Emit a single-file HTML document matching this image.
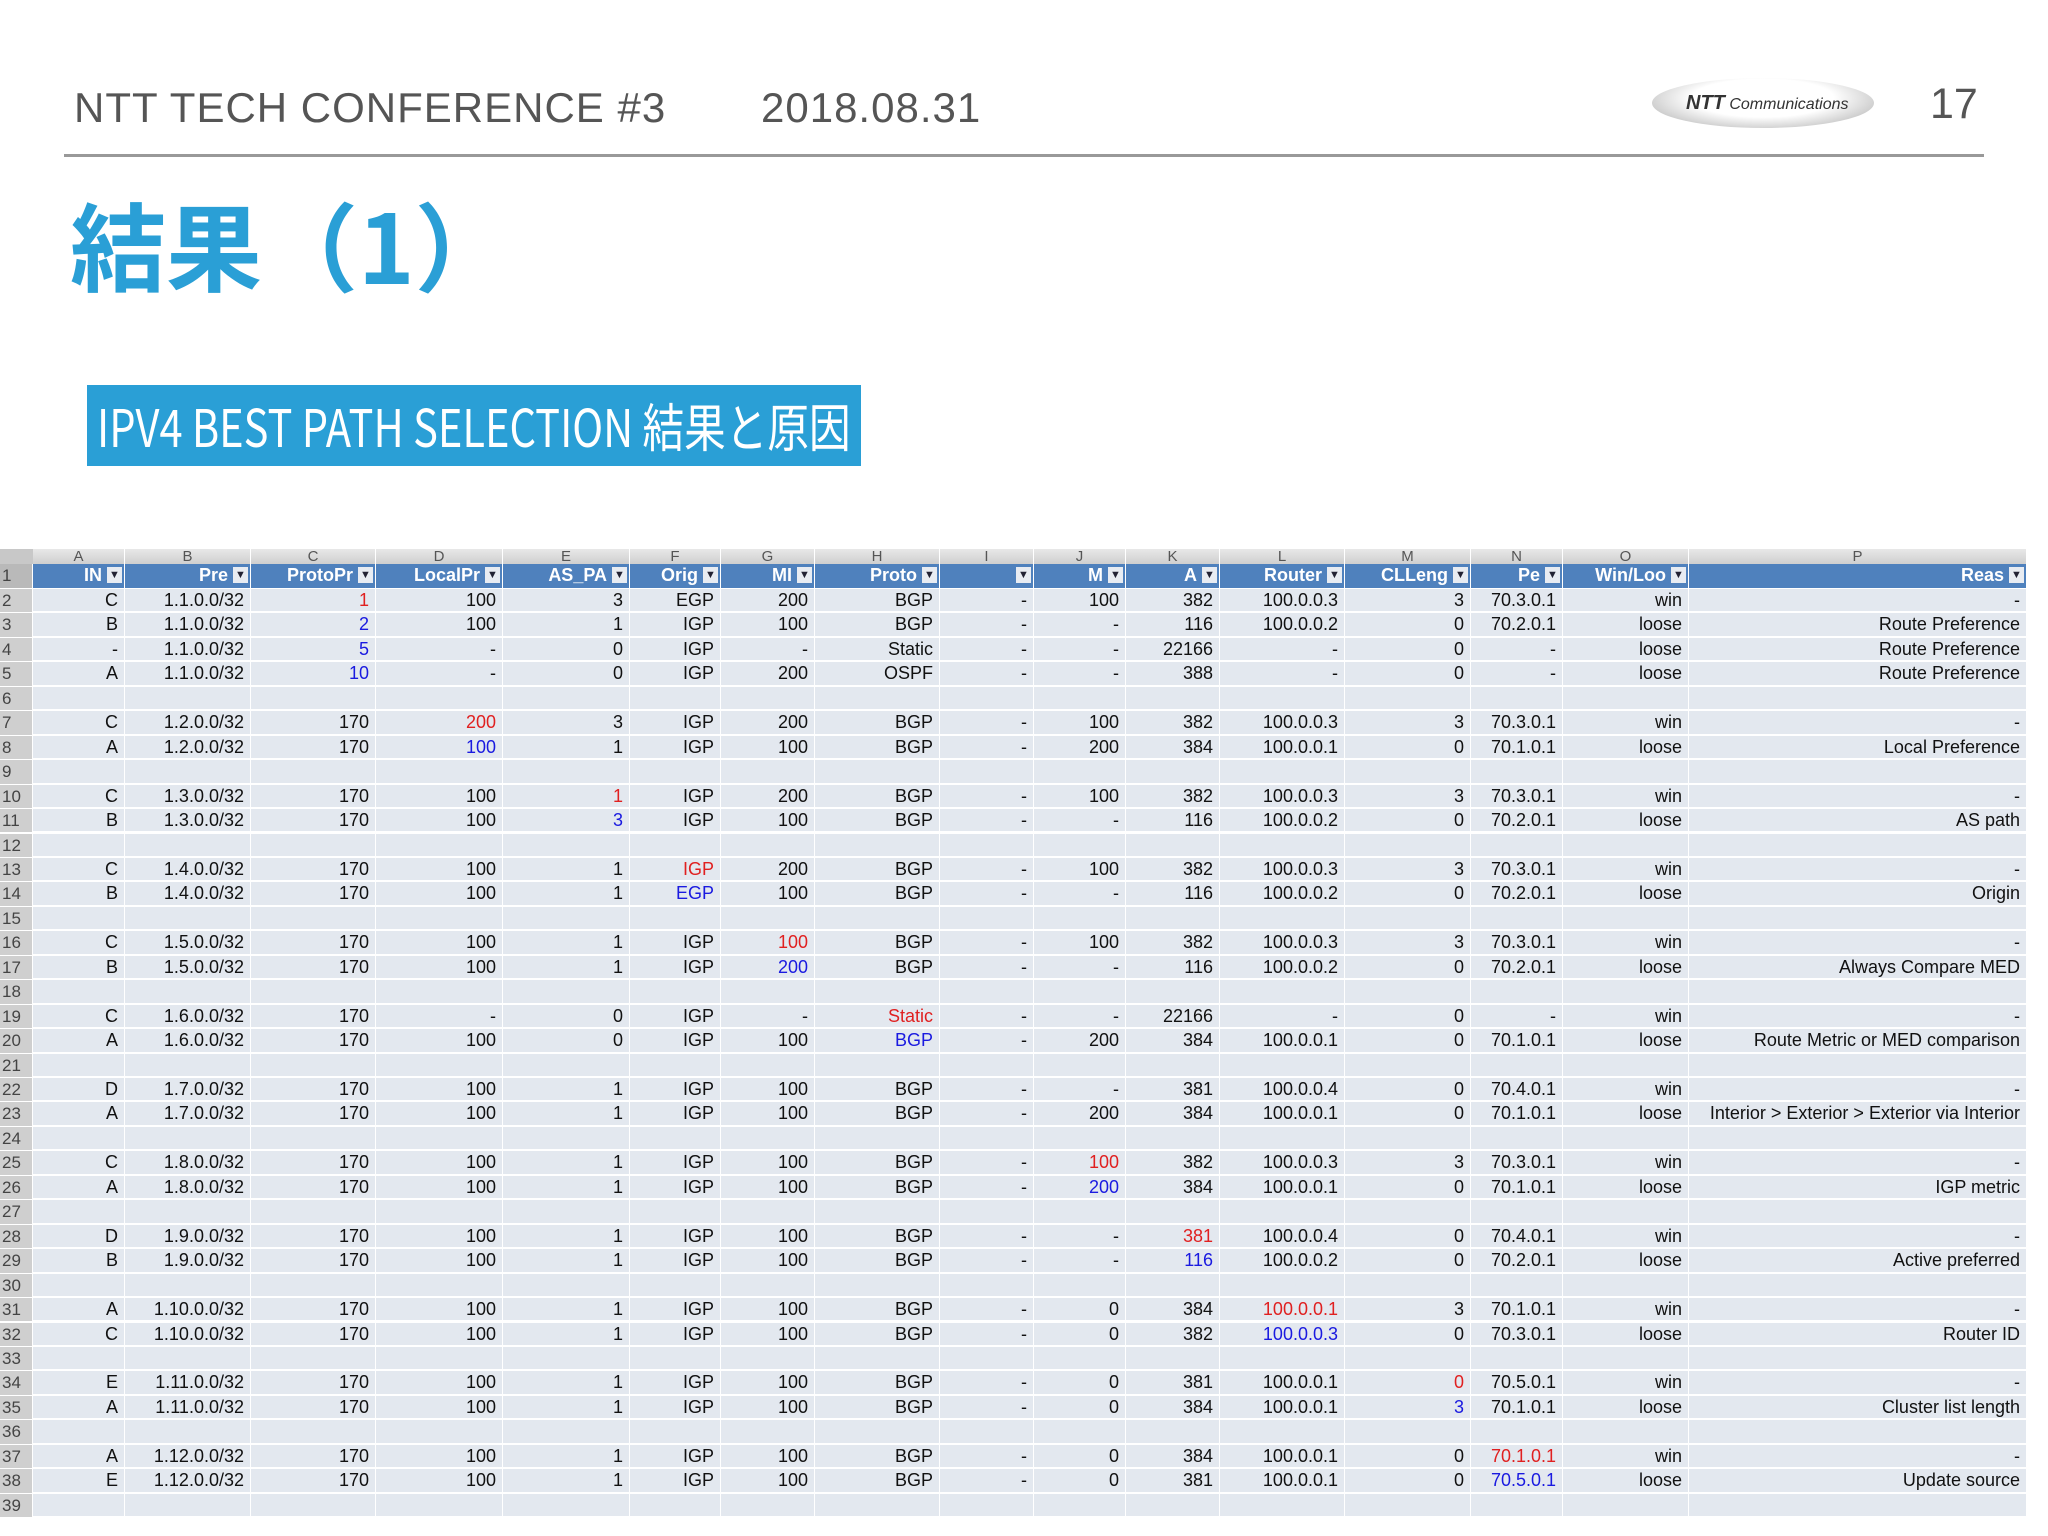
<!DOCTYPE html>
<html><head><meta charset="utf-8">
<style>
html,body{margin:0;padding:0}
body{width:2048px;height:1536px;position:relative;overflow:hidden;background:#fff;font-family:"Liberation Sans","Noto Sans CJK JP",sans-serif}
.abs{position:absolute}
#tbl{position:absolute;left:0;top:549px;width:2048px;height:987px;background:#fff;overflow:hidden}
.c{position:absolute;box-sizing:border-box;font-family:"Liberation Sans Narrow","Liberation Sans",sans-serif;font-size:18px;line-height:23px;color:#111;text-align:right;padding-right:6px;white-space:nowrap;overflow:hidden}
</style></head><body>
<div class="abs" style="left:74px;top:84px;font-size:42px;letter-spacing:1px;color:#555">NTT TECH CONFERENCE #3</div>
<div class="abs" style="left:761px;top:84px;font-size:42px;letter-spacing:1px;color:#555">2018.08.31</div>
<div class="abs" style="left:1652px;top:78px;width:222px;height:50px;border-radius:50%;background:radial-gradient(ellipse at 50% 40%,#fff 45%,#ccc 75%,#fff 100%)"><span style="position:absolute;left:34px;top:14px;font-size:20px;font-style:italic;font-weight:bold;color:#333">NTT<span style="font-weight:normal;font-size:16px"> Communications</span></span></div>
<div class="abs" style="left:1930px;top:80px;font-size:43px;color:#555">17</div>
<div class="abs" style="left:64px;top:154px;width:1920px;height:3px;background:#999"></div>
<div class="abs" style="left:70px;top:188px;font-size:96px;font-weight:bold;color:#2a9fd6;font-family:'Noto Sans CJK JP','Liberation Sans',sans-serif;line-height:110px">結果（1）</div>
<div class="abs" style="left:87px;top:385px;width:774px;height:81px;background:#2a9fd6;overflow:hidden"><span style="position:absolute;left:10px;top:10px;color:#fff;font-size:52px;line-height:60px;font-family:'Liberation Sans Narrow','Noto Sans CJK JP',sans-serif;white-space:nowrap;transform-origin:0 0;transform:scaleX(0.80)">IPV4 BEST PATH SELECTION 結果と原因</span></div>
<div id="tbl"></div>
<script>
const colEdges=[0,33,125,251,376,503,630,721,815,940,1034,1126,1220,1345,1471,1563,1689,2027,2060];
const colLetters=["A","B","C","D","E","F","G","H","I","J","K","L","M","N","O","P"];
const headers=["IN","Pre","ProtoPr","LocalPr","AS_PA","Orig","MI","Proto","","M","A","Router","CLLeng","Pe","Win/Loo","Reas"];
const rows=[
"C,1.1.0.0/32,1|r,100,3,EGP,200,BGP,-,100,382,100.0.0.3,3,70.3.0.1,win,-",
"B,1.1.0.0/32,2|b,100,1,IGP,100,BGP,-,-,116,100.0.0.2,0,70.2.0.1,loose,Route Preference",
"-,1.1.0.0/32,5|b,-,0,IGP,-,Static,-,-,22166,-,0,-,loose,Route Preference",
"A,1.1.0.0/32,10|b,-,0,IGP,200,OSPF,-,-,388,-,0,-,loose,Route Preference",
"",
"C,1.2.0.0/32,170,200|r,3,IGP,200,BGP,-,100,382,100.0.0.3,3,70.3.0.1,win,-",
"A,1.2.0.0/32,170,100|b,1,IGP,100,BGP,-,200,384,100.0.0.1,0,70.1.0.1,loose,Local Preference",
"",
"C,1.3.0.0/32,170,100,1|r,IGP,200,BGP,-,100,382,100.0.0.3,3,70.3.0.1,win,-",
"B,1.3.0.0/32,170,100,3|b,IGP,100,BGP,-,-,116,100.0.0.2,0,70.2.0.1,loose,AS path",
"",
"C,1.4.0.0/32,170,100,1,IGP|r,200,BGP,-,100,382,100.0.0.3,3,70.3.0.1,win,-",
"B,1.4.0.0/32,170,100,1,EGP|b,100,BGP,-,-,116,100.0.0.2,0,70.2.0.1,loose,Origin",
"",
"C,1.5.0.0/32,170,100,1,IGP,100|r,BGP,-,100,382,100.0.0.3,3,70.3.0.1,win,-",
"B,1.5.0.0/32,170,100,1,IGP,200|b,BGP,-,-,116,100.0.0.2,0,70.2.0.1,loose,Always Compare MED",
"",
"C,1.6.0.0/32,170,-,0,IGP,-,Static|r,-,-,22166,-,0,-,win,-",
"A,1.6.0.0/32,170,100,0,IGP,100,BGP|b,-,200,384,100.0.0.1,0,70.1.0.1,loose,Route Metric or MED comparison",
"",
"D,1.7.0.0/32,170,100,1,IGP,100,BGP,-,-,381,100.0.0.4,0,70.4.0.1,win,-",
"A,1.7.0.0/32,170,100,1,IGP,100,BGP,-,200,384,100.0.0.1,0,70.1.0.1,loose,Interior > Exterior > Exterior via Interior",
"",
"C,1.8.0.0/32,170,100,1,IGP,100,BGP,-,100|r,382,100.0.0.3,3,70.3.0.1,win,-",
"A,1.8.0.0/32,170,100,1,IGP,100,BGP,-,200|b,384,100.0.0.1,0,70.1.0.1,loose,IGP metric",
"",
"D,1.9.0.0/32,170,100,1,IGP,100,BGP,-,-,381|r,100.0.0.4,0,70.4.0.1,win,-",
"B,1.9.0.0/32,170,100,1,IGP,100,BGP,-,-,116|b,100.0.0.2,0,70.2.0.1,loose,Active preferred",
"",
"A,1.10.0.0/32,170,100,1,IGP,100,BGP,-,0,384,100.0.0.1|r,3,70.1.0.1,win,-",
"C,1.10.0.0/32,170,100,1,IGP,100,BGP,-,0,382,100.0.0.3|b,0,70.3.0.1,loose,Router ID",
"",
"E,1.11.0.0/32,170,100,1,IGP,100,BGP,-,0,381,100.0.0.1,0|r,70.5.0.1,win,-",
"A,1.11.0.0/32,170,100,1,IGP,100,BGP,-,0,384,100.0.0.1,3|b,70.1.0.1,loose,Cluster list length",
"",
"A,1.12.0.0/32,170,100,1,IGP,100,BGP,-,0,384,100.0.0.1,0,70.1.0.1|r,win,-",
"E,1.12.0.0/32,170,100,1,IGP,100,BGP,-,0,381,100.0.0.1,0,70.5.0.1|b,loose,Update source",
""
];
const T=document.getElementById('tbl');
function cell(x,y,w,h,bg,txt,color,extra){
  const d=document.createElement('div');d.className='c';
  d.style.left=x+'px';d.style.top=y+'px';d.style.width=w+'px';d.style.height=h+'px';
  d.style.background=bg;if(color)d.style.color=color;d.textContent=txt;
  if(extra)Object.assign(d.style,extra);
  T.appendChild(d);return d;
}
let d=cell(0,0,33,15,'#c8c8c8','');


for(let i=0;i<16;i++){
  const x=colEdges[i+1],w=colEdges[i+2]-x-1;
  d=cell(x,0,w,15,'linear-gradient(#e8e8e8,#cfcfcf)',colLetters[i],'#555',{textAlign:'center',paddingRight:'0',fontSize:'15px',lineHeight:'15px'});
  
  
}
const RH=24.45, top0=15;
d=cell(0,top0,32,24,'#b9b9b9','1','#444',{textAlign:'left',paddingLeft:'2px',fontSize:'17px'});


for(let i=0;i<16;i++){
  const x=colEdges[i+1],w=colEdges[i+2]-x-1;
  d=cell(x,top0,w,24,'#4f81bd',headers[i],'#fff',{fontWeight:'bold',paddingRight:'22px'});
  
  
  const f=document.createElement('div');
  
  
  f.style.cssText='position:absolute;right:2px;top:3px;width:15px;height:16px;background:#e8ecf2;color:#223;font-size:11px;line-height:16px;text-align:center;padding:0';
  f.textContent='▼';d.appendChild(f);
}
rows.forEach((r,ri)=>{
  const y=top0+24+1+ri*RH, h=RH-2;
  d=cell(0,y,32,h+1,'#cfcfcf',String(ri+2),'#444',{textAlign:'left',paddingLeft:'2px',fontSize:'17px'});
  
  
  const vals=r?r.split(','):[];
  for(let i=0;i<16;i++){
    const x=colEdges[i+1],w=colEdges[i+2]-x-1;
    let v=vals[i]||'',col=null;
    if(v.indexOf('|')>=0){const p=v.split('|');v=p[0];col=p[1]==='r'?'#e02020':'#1a1ae0';}
    d=cell(x,y,w,h,'#e3e8ef',v,col);
    
    
  }
});
</script>
</body></html>
